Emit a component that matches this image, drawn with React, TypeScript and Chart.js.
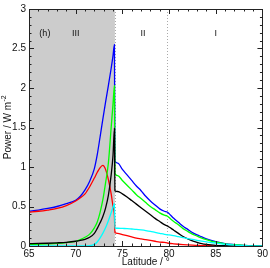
import React, { useEffect, useRef } from "react";
import { Chart, registerables } from "chart.js";

Chart.register(...registerables);

const LAT = [65, 66, 67, 68, 69, 70, 70.5, 71, 71.5, 72, 72.3, 72.6, 72.9, 73.2, 73.5, 73.8, 74.0, 74.15, 74.2, 74.5, 75, 75.5, 76, 76.5, 77, 77.5, 78, 78.5, 79, 79.5, 79.8, 80, 80.5, 81, 81.5, 82, 82.5, 83, 83.5, 84, 84.5, 85, 86, 87, 88, 89, 90];

const BLUE = [0.44, 0.455, 0.475, 0.5, 0.535, 0.58, 0.63, 0.71, 0.82, 0.98, 1.15, 1.37, 1.6, 1.82, 2.03, 2.25, 2.41, 2.55, 1.08, 1.05, 0.97, 0.9, 0.83, 0.76, 0.7, 0.63, 0.57, 0.52, 0.47, 0.44, 0.43, 0.41, 0.35, 0.3, 0.25, 0.21, 0.17, 0.14, 0.115, 0.09, 0.07, 0.055, 0.03, 0.017, 0.008, 0.003, 0.001];

const GREEN = [0.02, 0.022, 0.027, 0.033, 0.043, 0.06, 0.08, 0.11, 0.15, 0.23, 0.3, 0.42, 0.58, 0.8, 1.05, 1.5, 1.8, 2.03, 0.92, 0.89, 0.83, 0.77, 0.71, 0.65, 0.6, 0.55, 0.5, 0.46, 0.42, 0.39, 0.38, 0.36, 0.31, 0.27, 0.22, 0.185, 0.15, 0.125, 0.1, 0.08, 0.063, 0.05, 0.028, 0.016, 0.008, 0.003, 0.001];

const BLACK = [0.03, 0.032, 0.035, 0.04, 0.047, 0.06, 0.07, 0.085, 0.11, 0.16, 0.22, 0.29, 0.37, 0.48, 0.64, 0.9, 1.15, 1.49, 0.7, 0.69, 0.66, 0.62, 0.575, 0.53, 0.485, 0.44, 0.395, 0.35, 0.31, 0.27, 0.255, 0.24, 0.2, 0.16, 0.12, 0.09, 0.065, 0.045, 0.03, 0.02, 0.013, 0.008, 0.004, 0.002, 0.001, 0, 0];

const RED = [0.43, 0.44, 0.455, 0.475, 0.51, 0.57, 0.61, 0.66, 0.75, 0.86, 0.93, 0.99, 1.02, 0.97, 0.84, 0.66, 0.5, 0.38, 0.17, 0.16, 0.145, 0.13, 0.115, 0.1, 0.09, 0.08, 0.07, 0.06, 0.05, 0.045, 0.04, 0.035, 0.028, 0.022, 0.017, 0.013, 0.01, 0.008, 0.006, 0.004, 0.003, 0.002, 0.001, 0.001, 0, 0, 0];

const CYAN = [0, 0, 0, 0, 0, 0, 0, 0, 0.003, 0.02, 0.05, 0.1, 0.16, 0.23, 0.32, 0.42, 0.49, 0.54, 0.225, 0.225, 0.222, 0.22, 0.215, 0.21, 0.203, 0.195, 0.185, 0.172, 0.16, 0.148, 0.142, 0.14, 0.13, 0.118, 0.106, 0.094, 0.083, 0.072, 0.062, 0.052, 0.044, 0.036, 0.022, 0.012, 0.005, 0.002, 0];

const SHADE_RANGE = [65, 74.2];
const DOTTED_LINES = [74.2, 79.8];
const REGION_LABELS = ["(h)", "III", "II", "I"];
const REGION_LABEL_LAT = [66.7, 70.0, 77.2, 85.0];
const REGION_LABEL_Y = 2.69;
const X_TICK_STEP = 5;
const X_MINOR_STEP = 1;
const Y_TICK_STEP = 0.5;
const Y_MINOR_STEP = 0.1;

const FONT = "Liberation Sans, Arial, Helvetica, sans-serif";

const toPts = (arr: number[]) => LAT.map((x, i) => ({ x, y: arr[i] }));

const decorPlugin = {
  id: "decor",
  beforeDatasetsDraw(chart: any) {
    const { ctx, chartArea: a, scales } = chart;
    const xs = scales.x;
    ctx.save();
    ctx.fillStyle = "rgb(204,204,204)";
    const x0 = xs.getPixelForValue(SHADE_RANGE[0]);
    const x1 = xs.getPixelForValue(SHADE_RANGE[1]);
    ctx.fillRect(x0, a.top, x1 - x0, a.bottom - a.top);
    ctx.strokeStyle = "#aaa";
    ctx.lineWidth = 1;
    ctx.setLineDash([1, 2]);
    DOTTED_LINES.forEach((v) => {
      const px = Math.round(xs.getPixelForValue(v)) + 0.5;
      ctx.beginPath();
      ctx.moveTo(px, a.top);
      ctx.lineTo(px, a.bottom);
      ctx.stroke();
    });
    ctx.restore();
  },
  afterDatasetsDraw(chart: any) {
    const { ctx, chartArea: a, scales } = chart;
    const xs = scales.x;
    const ys = scales.y;
    ctx.save();
    ctx.strokeStyle = "#222";
    ctx.lineWidth = 1;
    ctx.setLineDash([]);
    ctx.strokeRect(Math.round(a.left) + 0.5, Math.round(a.top) + 0.5, Math.round(a.right - a.left), Math.round(a.bottom - a.top));
    ctx.beginPath();
    for (let v = xs.min; v <= xs.max + 1e-6; v += X_MINOR_STEP) {
      const px = Math.round(xs.getPixelForValue(v)) + 0.5;
      const major = Math.abs(v / X_TICK_STEP - Math.round(v / X_TICK_STEP)) < 1e-6;
      const len = major ? 5 : 2.5;
      ctx.moveTo(px, a.bottom);
      ctx.lineTo(px, a.bottom - len);
      ctx.moveTo(px, a.top);
      ctx.lineTo(px, a.top + len);
    }
    for (let i = 0; i <= Math.round((ys.max - ys.min) / Y_MINOR_STEP); i++) {
      const v = ys.min + i * Y_MINOR_STEP;
      const py = Math.round(ys.getPixelForValue(v)) + 0.5;
      const major = i % Math.round(Y_TICK_STEP / Y_MINOR_STEP) === 0;
      const len = major ? 5 : 2.5;
      ctx.moveTo(a.left, py);
      ctx.lineTo(a.left + len, py);
      ctx.moveTo(a.right, py);
      ctx.lineTo(a.right - len, py);
    }
    ctx.stroke();

    ctx.fillStyle = "#111";
    ctx.font = `9px ${FONT}`;
    ctx.textAlign = "center";
    ctx.textBaseline = "middle";
    REGION_LABELS.forEach((t, i) => {
      ctx.fillText(t, xs.getPixelForValue(REGION_LABEL_LAT[i]), ys.getPixelForValue(REGION_LABEL_Y));
    });

    ctx.font = `10px ${FONT}`;
    ctx.fillText("Latitude / °", (a.left + a.right) / 2, 262.5);

    ctx.save();
    const main = "Power / W m";
    const sup = "-2";
    ctx.font = `10px ${FONT}`;
    const wMain = ctx.measureText(main).width;
    ctx.font = `7px ${FONT}`;
    const wSup = ctx.measureText(sup).width;
    const total = wMain + wSup;
    ctx.translate(8, (a.top + a.bottom) / 2);
    ctx.rotate(-Math.PI / 2);
    ctx.textAlign = "left";
    ctx.font = `10px ${FONT}`;
    ctx.fillText(main, -total / 2, 0);
    ctx.font = `7px ${FONT}`;
    ctx.fillText(sup, -total / 2 + wMain + 0.5, -4);
    ctx.restore();

    ctx.restore();
  },
};

export default function App() {
  const ref = useRef<HTMLCanvasElement | null>(null);
  useEffect(() => {
    if (!ref.current) return;
    const ds = (label: string, data: number[], color: string) => ({
      label,
      data: toPts(data),
      borderColor: color,
      backgroundColor: color,
      borderWidth: 1.3,
      pointRadius: 0,
      cubicInterpolationMode: "monotone" as const,
      fill: false,
    });
    const chart = new Chart(ref.current, {
      type: "line",
      data: {
        datasets: [
          ds("cyan", CYAN, "#00ffff"),
          ds("black", BLACK, "#000000"),
          ds("green", GREEN, "#00ff00"),
          ds("red", RED, "#ff0000"),
          ds("blue", BLUE, "#0000ff"),
        ],
      },
      options: {
        animation: false,
        responsive: false,
        maintainAspectRatio: false,
        layout: { padding: { top: 6, right: 7, left: 0, bottom: 0 } },
        plugins: { legend: { display: false }, tooltip: { enabled: false } },
        scales: {
          x: {
            type: "linear",
            min: 65,
            max: 90,
            grid: { display: false, drawTicks: false },
            border: { display: false },
            ticks: { stepSize: X_TICK_STEP, color: "#111", font: { size: 10, family: FONT }, padding: 2, maxRotation: 0 },
            afterFit: (s: any) => { s.height = 22; },
          },
          y: {
            type: "linear",
            min: 0,
            max: 3,
            grid: { display: false, drawTicks: false },
            border: { display: false },
            ticks: {
              stepSize: Y_TICK_STEP,
              color: "#111",
              font: { size: 10, family: FONT },
              padding: 3,
              callback: (v: any) => String(Math.round(Number(v) * 10) / 10),
            },
            afterFit: (s: any) => { s.width = 29; },
          },
        },
      },
      plugins: [decorPlugin],
    });
    return () => chart.destroy();
  }, []);
  return (
    <div style={{ position: "fixed", left: 0, top: 0, width: 270, height: 268, background: "#fff" }}>
      <canvas ref={ref} width={270} height={268} style={{ width: 270, height: 268 }} />
    </div>
  );
}
